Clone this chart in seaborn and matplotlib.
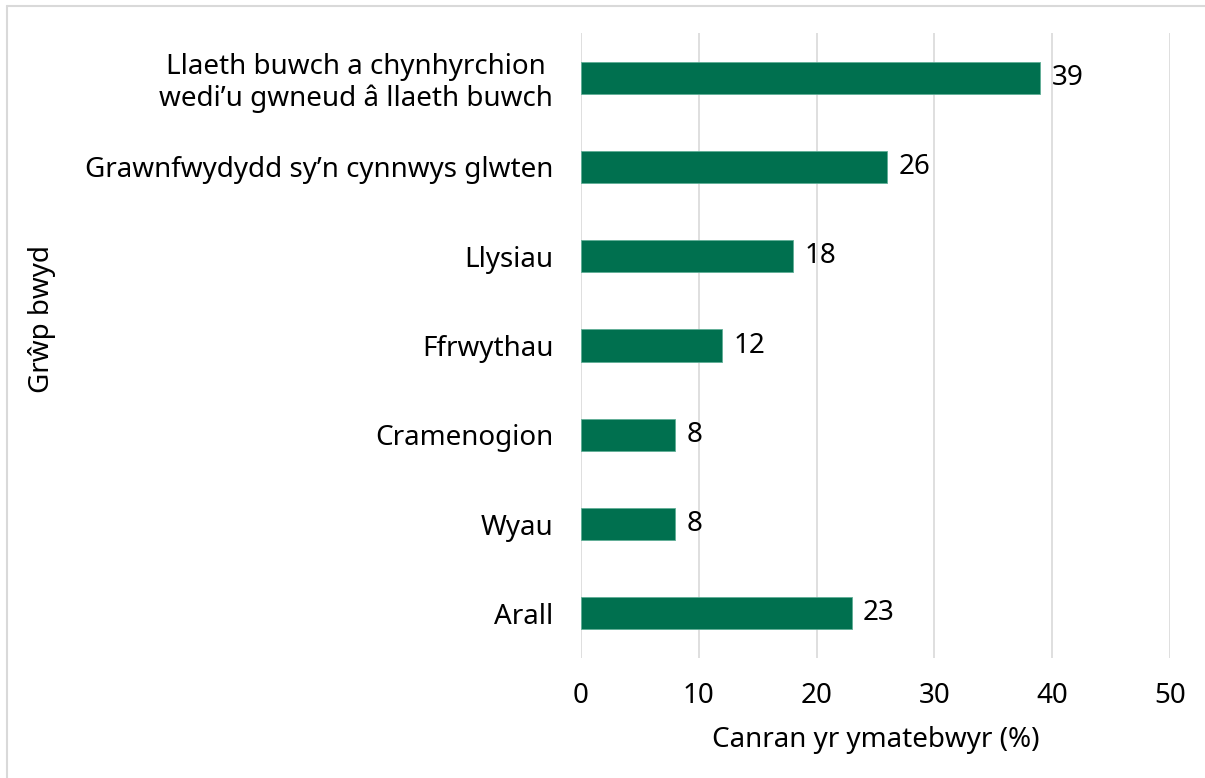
import matplotlib
matplotlib.use("Agg")
import matplotlib.pyplot as plt
import seaborn as sns
import pandas as pd

CATEGORIES = [
    "Llaeth buwch a chynhyrchion\nwedi\u2019u gwneud \u00e2 llaeth buwch",
    "Grawnfwydydd sy\u2019n cynnwys glwten",
    "Llysiau",
    "Ffrwythau",
    "Cramenogion",
    "Wyau",
    "Arall",
]
PERCENT = [39, 26, 18, 12, 8, 8, 23]
X_TICKS = [0, 10, 20, 30, 40, 50]

BAR_COLOR = "#00704F"
GRID_COLOR = "#d9d9d9"
FS = 20

sns.set_theme(style="white")
plt.rcParams["font.family"] = ["Noto Sans", "DejaVu Sans"]

df = pd.DataFrame({"group": CATEGORIES, "pct": PERCENT})

fig = plt.figure(figsize=(12.05, 7.78), dpi=100)
ax = fig.add_axes([0.4822, 0.1542, 0.4888, 0.8034])

sns.barplot(data=df, x="pct", y="group", order=CATEGORIES, color=BAR_COLOR,
            width=0.36, edgecolor="#5fae96", linewidth=0.6, saturation=1, ax=ax)

for cont in ax.containers:
    ax.bar_label(cont, padding=8, fontsize=FS, color="black")

ax.set_xlim(0, 50)
ax.set_xticks(X_TICKS)
ax.xaxis.grid(True, color=GRID_COLOR, linewidth=1.2)
ax.set_axisbelow(True)
for s in ax.spines.values():
    s.set_visible(False)
ax.tick_params(axis="x", length=0, pad=17, labelsize=FS, colors="black")
ax.tick_params(axis="y", length=0, pad=20, labelsize=FS, colors="black")
for lbl in ax.get_yticklabels():
    lbl.set_multialignment("center")
    lbl.set_linespacing(1.15)

ax.set_xlabel("Canran yr ymatebwyr (%)", fontsize=FS, labelpad=12, color="black")
ax.set_ylabel("")
fig.text(0.035, 0.59, "Gr\u0175p bwyd", rotation=90, fontsize=FS,
         ha="center", va="center", color="black")

# light frame on the left and top edges
fig.add_artist(plt.Line2D([0.0058, 0.0058], [0, 0.9923], color="#d9d9d9", linewidth=1.5))
fig.add_artist(plt.Line2D([0.0058, 1], [0.9923, 0.9923], color="#d9d9d9", linewidth=1.5))

fig.savefig("out.png", dpi=100)
